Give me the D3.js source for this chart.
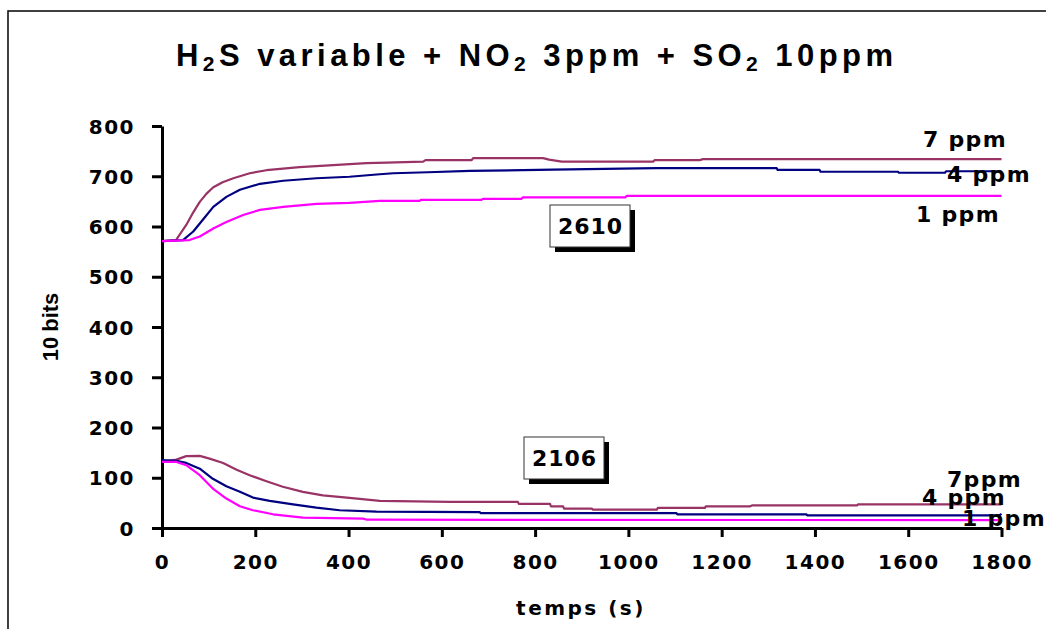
<!DOCTYPE html>
<html><head><meta charset="utf-8">
<script src="https://cdn.jsdelivr.net/npm/d3@7"></script>
<style>
html,body{margin:0;padding:0;background:#fff;}
svg{display:block;}
</style></head>
<body>
<svg id="chart" width="1046" height="629"></svg>
<script>
// ---------- DATA ----------
const titleParts = [["H",false],["2",true],["S variable + NO",false],["2",true],[" 3ppm + SO",false],["2",true],[" 10ppm",false]];
const xLabel = "temps (s)";
const yLabel = "10 bits";
const xTicks = [0,200,400,600,800,1000,1200,1400,1600,1800];
const yTicks = [0,100,200,300,400,500,600,700,800];
const seriesNames = ["7 ppm","4 ppm","1 ppm"];
const seriesColors = ["#993366","#000080","#FF00FF"];

// sensor 2610 (upper curves) [time s, 10-bit value]
const s2610_7ppm = [[0,571],[30,573],[52,603],[65,625],[81,649],[95,665],[110,678],[130,688],[153,696],[188,706],[224,712],[295,718],[367,722],[438,726],[482,727],[560,729],[565,732],[664,732],[667,736],[817,736],[830,733],[857,729],[1053,729],[1056,732],[1153,732],[1160,734],[1800,734]];
const s2610_4ppm = [[0,571],[45,573],[67,590],[88,614],[110,639],[138,659],[167,673],[210,685],[260,691],[331,696],[402,699],[467,704],[496,706],[570,708],[660,710.5],[838,713],[1060,716],[1318,716],[1320,712.5],[1410,712.5],[1412,709],[1578,709],[1580,707],[1679,707],[1681,710],[1800,710]];
const s2610_1ppm = [[0,571],[59,573],[81,580],[110,596],[138,609],[174,623],[210,633],[260,639],[331,645],[402,647],[467,651],[553,651],[555,653],[685,653],[688,655],[771,655],[774,658],[993,658],[997,661],[1800,661]];

// sensor 2106 (lower curves)
const s2106_7ppm = [[0,131.5],[31,136],[52,143],[81,143.5],[102,138],[131,129.5],[160,116],[188,105],[224,93],[259,82],[302,72],[345,65],[402,60],[467,54],[617,52],[763,52],[765,48],[832,48],[834,43],[860,43],[862,38.5],[922,38.5],[924,36.5],[1061,36.5],[1063,40],[1164,40],[1166,43],[1260,43],[1265,45],[1490,45],[1492,47],[1800,47]];
const s2106_4ppm = [[0,135],[31,133.5],[52,129.5],[81,118],[109,98],[138,83],[167,72],[195,60.5],[231,54],[281,47],[331,40.5],[381,35.3],[460,32.6],[681,31.7],[683,29.8],[1103,29.8],[1105,27],[1382,27],[1384,25],[1795,25],[1800,28]];
const s2106_1ppm = [[0,131.5],[31,131.5],[52,125],[81,105],[109,78.5],[138,58.6],[167,43.2],[195,35.3],[238,27.3],[302,20.7],[431,18.7],[440,16.5],[1800,15.5]];

const sensorNames = ["2610","2106"];
const upperLabels = ["7 ppm","4 ppm","1 ppm"];
const lowerLabels = ["7ppm","4 ppm","1 ppm"];

// ---------- DRAW ----------
const svg = d3.select("#chart");
const x = d3.scaleLinear().domain([0,1800]).range([162,1001.5]);
const y = d3.scaleLinear().domain([0,800]).range([528,126]);

// outer frame
svg.append("rect").attr("x",8).attr("y",11).attr("width",1100).attr("height",700)
  .attr("fill","none").attr("stroke","#111").attr("stroke-width",1.6);

// title
const title = svg.append("text").attr("x",176).attr("y",66)
  .attr("font-family","'Liberation Sans', Arial, sans-serif").attr("font-weight","bold")
  .attr("font-size",31).attr("fill","#000");
titleParts.forEach(([t,sub],i)=>{
  const ts = title.append("tspan").text(t);
  if(sub){ ts.attr("font-size",21).attr("dy",5); }
  else if(i>0 && titleParts[i-1][1]){ ts.attr("dy",-5); }
});
{
  const natural = title.node().getComputedTextLength();
  const nChars = titleParts.map(p=>p[0]).join("").length;
  const ls = (717 - natural)/(nChars-1);
  title.attr("letter-spacing", ls);
}

const tickFont = "'DejaVu Sans', Verdana, sans-serif";

// y axis
const yAxis = svg.append("g").attr("transform","translate(162,0)")
  .call(d3.axisLeft(y).tickValues(yTicks).tickFormat(d3.format("d")).tickSize(10).tickSizeOuter(0).tickPadding(17));
yAxis.select(".domain").attr("stroke","#000").attr("stroke-width",3);
yAxis.selectAll(".tick line").attr("stroke","#000").attr("stroke-width",3);
yAxis.selectAll(".tick text").attr("font-family",tickFont).attr("font-weight","bold")
  .attr("font-size",20).attr("letter-spacing",1.5).attr("fill","#000").attr("dy","0.36em");

// x axis
const xAxis = svg.append("g").attr("transform","translate(0,528)")
  .call(d3.axisBottom(x).tickValues(xTicks).tickFormat(d3.format("d")).tickSize(9).tickSizeOuter(0));
xAxis.select(".domain").attr("stroke","#000").attr("stroke-width",3);
xAxis.selectAll(".tick line").attr("stroke","#000").attr("stroke-width",3);
xAxis.selectAll(".tick text").attr("font-family",tickFont).attr("font-weight","bold")
  .attr("font-size",20).attr("letter-spacing",1.5).attr("fill","#000")
  .attr("y",41).attr("dy",0);

// axis titles
svg.append("text").attr("x",581).attr("y",615).attr("text-anchor","middle")
  .attr("font-family",tickFont).attr("font-weight","bold").attr("font-size",20)
  .attr("letter-spacing",2.5).text(xLabel);
svg.append("text").attr("transform","translate(58,327) rotate(-90)").attr("text-anchor","middle")
  .attr("font-family","'Liberation Sans', Arial, sans-serif").attr("font-weight","bold")
  .attr("font-size",22).attr("word-spacing",-1).text(yLabel);

// lines
const line = d3.line().x(d=>x(d[0])).y(d=>y(d[1]));
const allSeries = [
  [s2610_7ppm,0],[s2610_4ppm,1],[s2610_1ppm,2],
  [s2106_7ppm,0],[s2106_4ppm,1],[s2106_1ppm,2]
];
allSeries.forEach(([data,ci])=>{
  svg.append("path").datum(data).attr("d",line).attr("fill","none")
    .attr("stroke",seriesColors[ci]).attr("stroke-width",2.2).attr("stroke-linejoin","round");
});

// sensor boxes
function box(name, bx, by){
  const w=80, h=42;
  svg.append("rect").attr("x",bx+5).attr("y",by+5).attr("width",w).attr("height",h).attr("fill","#000");
  svg.append("rect").attr("x",bx).attr("y",by).attr("width",w).attr("height",h)
    .attr("fill","#fff").attr("stroke","#333").attr("stroke-width",1);
  svg.append("text").attr("x",bx+w/2+0.5).attr("y",by+h/2).attr("dy","0.36em").attr("text-anchor","middle")
    .attr("font-family",tickFont).attr("font-weight","bold").attr("font-size",22)
    .attr("letter-spacing",1).text(name);
}
box(sensorNames[0], 550, 205);
box(sensorNames[1], 524, 437);

// curve labels
const labelFont = (sel)=>sel.attr("font-family",tickFont).attr("font-weight","bold")
  .attr("font-size",22).attr("letter-spacing",1.3).attr("fill","#000");
const upperPos = [[923,147],[947,182],[916,222]];
const lowerPos = [[947,487],[922,505],[962,526]];
upperLabels.forEach((t,i)=>svg.append("text").attr("x",upperPos[i][0]).attr("y",upperPos[i][1]).call(labelFont).text(t));
lowerLabels.forEach((t,i)=>svg.append("text").attr("x",lowerPos[i][0]).attr("y",lowerPos[i][1]).call(labelFont).text(t));
</script>
</body></html>
